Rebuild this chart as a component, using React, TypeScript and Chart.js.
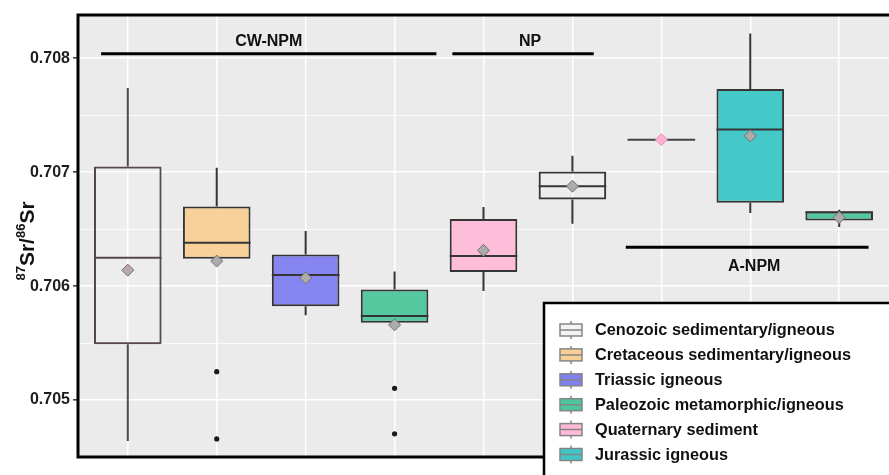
import React, { useEffect, useRef } from "react";
import { Chart, registerables } from "chart.js";

Chart.register(...registerables);

// ---------- data ----------
const positions = [1, 2, 3, 4, 5, 6, 7, 8, 9];
const groupNames = [
  "Cenozoic sedimentary/igneous",
  "Cretaceous sedimentary/igneous",
  "Triassic igneous",
  "Paleozoic metamorphic/igneous",
  "Quaternary sediment",
  "Jurassic igneous",
];
const boxGroup = [0, 1, 2, 3, 4, 0, 4, 5, 3];
const whiskerLow = [0.70464, 0.7062, 0.705745, 0.70566, 0.705958, 0.706548, 0.707286, 0.706641, 0.706518];
const q1 = [0.70549, 0.70624, 0.705824, 0.705678, 0.706124, 0.706761, 0.707286, 0.706732, 0.706577];
const median = [0.70625, 0.70638, 0.706098, 0.705737, 0.706265, 0.706877, 0.707286, 0.707374, 0.706648];
const q3 = [0.70705, 0.7067, 0.706277, 0.70597, 0.706589, 0.707006, 0.707286, 0.70773, 0.706656];
const whiskerHigh = [0.70774, 0.70704, 0.706483, 0.706128, 0.706694, 0.707144, 0.707286, 0.708217, 0.706671];
const means = [0.70614, 0.70622, 0.706072, 0.70566, 0.706314, 0.706877, 0.707286, 0.707319, 0.706603];
const outlierX = [2, 2, 4, 4];
const outlierY = [0.705249, 0.704659, 0.705103, 0.704703];
const yMajorTicks = [0.705, 0.706, 0.707, 0.708];
const yMinorTicks = [0.7045, 0.7055, 0.7065, 0.7075];
const regionLabels = ["CW-NPM", "NP", "A-NPM"];
const regionFrom = [0.7, 4.65, 6.6];
const regionTo = [4.47, 6.24, 9.33];
const regionY = [0.708039, 0.708039, 0.706341];
const regionTextAbove = [true, true, false];

// ---------- styles ----------
const groupColors = ["#f3f3f3", "#f9d094", "#8080f2", "#4dc69b", "#ffbad8", "#3fc7c7"];
const boxFills = [
  "rgba(255,255,255,0.12)",
  "rgba(249,206,146,0.92)",
  "rgba(124,124,242,0.92)",
  "rgba(72,196,152,0.92)",
  "rgba(255,184,215,0.92)",
  "rgba(255,255,255,0.12)",
  "rgba(0,0,0,0)",
  "rgba(60,198,198,0.95)",
  "rgba(72,196,152,0.92)",
];
const boxBorders = ["#574848", "#353535", "#353535", "#353535", "#353535", "#353535", "#444444", "#353535", "#353535"];
const meanFills = ["#b9a9a9", "#ababab", "#ababab", "#ababab", "#ababab", "#ababab", "#ffb4d2", "#ababab", "#ababab"];
const meanBorders = ["#806a6a", "#707070", "#707070", "#707070", "#707070", "#707070", "#e88fb6", "#707070", "#707070"];
const FONT = "'Liberation Sans', Arial, sans-serif";

const extrasPlugin = {
  id: "boxExtras",
  beforeDraw(chart: any) {
    const { ctx, chartArea: a } = chart;
    ctx.save();
    ctx.fillStyle = "#ffffff";
    ctx.fillRect(0, 0, chart.width, chart.height);
    ctx.fillStyle = "#ebebeb";
    ctx.fillRect(a.left, a.top, a.right - a.left, a.bottom - a.top);
    ctx.restore();
  },
  beforeDatasetDraw(chart: any, args: any) {
    if (args.index !== 0) return;
    const { ctx } = chart;
    const xs = chart.scales.x;
    const ys = chart.scales.y;
    ctx.save();
    ctx.lineWidth = 2;
    positions.forEach((p, i) => {
      const x = xs.getPixelForValue(p);
      ctx.strokeStyle = boxBorders[i];
      ctx.beginPath();
      ctx.moveTo(x, ys.getPixelForValue(q3[i]));
      ctx.lineTo(x, ys.getPixelForValue(whiskerHigh[i]));
      ctx.moveTo(x, ys.getPixelForValue(q1[i]));
      ctx.lineTo(x, ys.getPixelForValue(whiskerLow[i]));
      ctx.stroke();
    });
    ctx.restore();
  },
  afterDatasetDraw(chart: any, args: any) {
    if (args.index !== 0) return;
    const { ctx } = chart;
    const ys = chart.scales.y;
    const meta = chart.getDatasetMeta(0);
    ctx.save();
    ctx.lineWidth = 2;
    positions.forEach((p, i) => {
      const el = meta.data[i];
      const half = el.width / 2;
      const y = ys.getPixelForValue(median[i]);
      ctx.strokeStyle = boxBorders[i];
      ctx.beginPath();
      ctx.moveTo(el.x - half, y);
      ctx.lineTo(el.x + half, y);
      ctx.stroke();
    });
    ctx.restore();
  },
  afterDraw(chart: any) {
    const { ctx, chartArea: a } = chart;
    const xs = chart.scales.x;
    const ys = chart.scales.y;
    ctx.save();
    // frame
    ctx.strokeStyle = "#000000";
    ctx.lineWidth = 3;
    ctx.beginPath();
    ctx.moveTo(a.right + 5, a.top);
    ctx.lineTo(a.left, a.top);
    ctx.lineTo(a.left, a.bottom);
    ctx.lineTo(a.right + 5, a.bottom);
    ctx.stroke();

    // region labels
    ctx.font = `bold 16px ${FONT}`;
    ctx.fillStyle = "#111111";
    ctx.textAlign = "center";
    ctx.textBaseline = "middle";
    regionLabels.forEach((lab, i) => {
      const x0 = xs.getPixelForValue(regionFrom[i]);
      const x1 = xs.getPixelForValue(regionTo[i]);
      const y = ys.getPixelForValue(regionY[i]);
      ctx.lineWidth = 3;
      ctx.beginPath();
      ctx.moveTo(x0, y);
      ctx.lineTo(x1, y);
      ctx.stroke();
      const ty = regionTextAbove[i] ? y - 12 : y + 19;
      ctx.fillText(lab, (x0 + x1) / 2 + (i === 0 ? 0 : 7), ty);
    });

    // y axis title 87Sr/86Sr
    ctx.save();
    ctx.translate(34, 241);
    ctx.rotate(-Math.PI / 2);
    ctx.fillStyle = "#111111";
    ctx.textAlign = "left";
    ctx.textBaseline = "alphabetic";
    const big = `bold 21px ${FONT}`;
    const small = `bold 13px ${FONT}`;
    const parts: [string, string, number][] = [
      ["87", small, -9],
      ["Sr/", big, 0],
      ["86", small, -9],
      ["Sr", big, 0],
    ];
    let total = 0;
    parts.forEach(([t, f]) => {
      ctx.font = f;
      total += ctx.measureText(t).width;
    });
    let cx = -total / 2;
    parts.forEach(([t, f, dy]) => {
      ctx.font = f;
      ctx.fillText(t, cx, dy);
      cx += ctx.measureText(t).width;
    });
    ctx.restore();

    // legend
    const lx = 544;
    const ly = 303;
    ctx.fillStyle = "#ffffff";
    ctx.fillRect(lx, ly, chart.width - lx + 10, chart.height - ly + 10);
    ctx.strokeStyle = "#000000";
    ctx.lineWidth = 2.5;
    ctx.strokeRect(lx, ly, chart.width - lx + 10, chart.height - ly + 10);
    groupNames.forEach((name, i) => {
      const cy = 330 + i * 24.9;
      const bx = 560;
      const bw = 22;
      ctx.fillStyle = groupColors[i];
      ctx.fillRect(bx, cy - 6, bw, 12);
      ctx.strokeStyle = "#858585";
      ctx.lineWidth = 1.5;
      ctx.strokeRect(bx, cy - 6, bw, 12);
      ctx.beginPath();
      ctx.moveTo(bx, cy);
      ctx.lineTo(bx + bw, cy);
      ctx.moveTo(bx + bw / 2, cy - 9);
      ctx.lineTo(bx + bw / 2, cy - 6);
      ctx.moveTo(bx + bw / 2, cy + 6);
      ctx.lineTo(bx + bw / 2, cy + 9);
      ctx.stroke();
      ctx.fillStyle = "#111111";
      ctx.font = `bold 16.3px ${FONT}`;
      ctx.textAlign = "left";
      ctx.textBaseline = "middle";
      ctx.fillText(name, 595, cy + 1);
    });
    ctx.restore();
  },
};

export default function App() {
  const canvasRef = useRef<HTMLCanvasElement | null>(null);

  useEffect(() => {
    if (!canvasRef.current) return;
    const allTicks = [...yMajorTicks, ...yMinorTicks].sort((a, b) => a - b);
    const isMajor = (v: number) => yMajorTicks.some((m) => Math.abs(m - v) < 1e-9);
    const chart = new Chart(canvasRef.current, {
      type: "bar",
      data: {
        datasets: [
          {
            type: "bar",
            data: positions.map((p, i) => ({ x: p, y: [q1[i], q3[i]] })) as any,
            backgroundColor: boxFills,
            borderColor: boxBorders.map((c, i) => (q1[i] === q3[i] ? "rgba(0,0,0,0)" : c)),
            borderWidth: 2,
            borderSkipped: false,
            barPercentage: 0.76,
            categoryPercentage: 1,
            order: 3,
          } as any,
          {
            type: "scatter",
            data: outlierX.map((x, i) => ({ x, y: outlierY[i] })),
            pointStyle: "circle",
            pointRadius: 2.6,
            backgroundColor: "#1a1a1a",
            borderWidth: 0,
            order: 2,
          } as any,
          {
            type: "scatter",
            data: positions.map((p, i) => ({ x: p, y: means[i] })),
            pointStyle: "rectRot",
            pointRadius: 6,
            backgroundColor: meanFills,
            borderColor: meanBorders,
            borderWidth: 1,
            order: 1,
          } as any,
        ],
      },
      options: {
        animation: false,
        responsive: false,
        devicePixelRatio: 1,
        layout: { autoPadding: false, padding: { top: 15, bottom: 18, left: 0, right: 0 } },
        plugins: { legend: { display: false }, tooltip: { enabled: false }, title: { display: false } },
        scales: {
          x: {
            type: "linear",
            offset: false,
            min: 0.44,
            max: 9.56,
            afterBuildTicks: (s: any) => {
              s.ticks = positions.map((v) => ({ value: v }));
            },
            afterFit: (s: any) => {
              s.height = 0;
            },
            ticks: { display: false },
            border: { display: false },
            grid: { color: "#ffffff", lineWidth: 1.5, drawTicks: false, offset: false },
          },
          y: {
            type: "linear",
            min: 0.7045,
            max: 0.70838,
            afterBuildTicks: (s: any) => {
              s.ticks = allTicks.map((v) => ({ value: v }));
            },
            afterFit: (s: any) => {
              s.width = 78;
            },
            border: { display: false },
            grid: {
              color: "#ffffff",
              lineWidth: (c: any) => (isMajor(c.tick?.value) ? 1.6 : 0.8),
              tickColor: (c: any) => (isMajor(c.tick?.value) ? "#444444" : "rgba(0,0,0,0)"),
              tickLength: 5,
            },
            ticks: {
              padding: 3,
              color: "#1e1e1e",
              font: { family: FONT, size: 16, weight: "bold" },
              callback: (v: any) => (isMajor(Number(v)) ? Number(v).toFixed(3) : ""),
            },
          },
        },
      } as any,
      plugins: [extrasPlugin],
    });
    return () => chart.destroy();
  }, []);

  return (
    <div style={{ position: "fixed", left: 0, top: 0, width: 889, height: 475, background: "#fff" }}>
      <canvas ref={canvasRef} width={889} height={475} style={{ display: "block" }} />
    </div>
  );
}
